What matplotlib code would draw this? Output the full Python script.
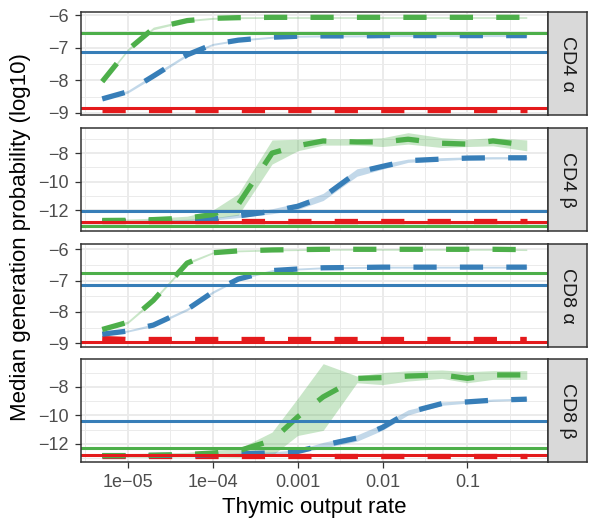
import numpy as np
import matplotlib
matplotlib.use("Agg")
import matplotlib.pyplot as plt
from matplotlib.ticker import FixedLocator, AutoMinorLocator, NullFormatter

plt.rcParams["font.family"] = ["Liberation Sans", "DejaVu Sans"]
plt.rcParams["axes.unicode_minus"] = True

# thymic output rates (x)
RATES = [5e-6, 1e-5, 2e-5, 5e-5, 1e-4, 2e-4, 5e-4, 1e-3, 2e-3, 5e-3,
         1e-2, 2e-2, 5e-2, 0.1, 0.2, 0.5]
X_TICKS = [1e-5, 1e-4, 1e-3, 1e-2, 0.1]
X_LABELS = ["1e\u221205", "1e\u221204", "0.001", "0.01", "0.1"]

PANELS = ["CD4 \u03b1", "CD4 \u03b2", "CD8 \u03b1", "CD8 \u03b2"]
Y_TICKS = [[-9, -8, -7, -6], [-12, -10, -8], [-9, -8, -7, -6], [-12, -10, -8]]

# CD4 alpha
CD4A_GREEN = [-8.04, -7.07, -6.41, -6.17, -6.10, -6.08, -6.07, -6.07, -6.07, -6.07, -6.07, -6.07, -6.07, -6.07, -6.07, -6.07]
CD4A_GREEN_LO = [-8.08, -7.11, -6.45, -6.20, -6.13, -6.11, -6.10, -6.10, -6.10, -6.10, -6.10, -6.10, -6.10, -6.10, -6.10, -6.10]
CD4A_GREEN_HI = [-8.00, -7.03, -6.37, -6.14, -6.07, -6.05, -6.05, -6.05, -6.05, -6.05, -6.05, -6.05, -6.05, -6.05, -6.05, -6.05]
CD4A_BLUE = [-8.57, -8.35, -7.87, -7.22, -6.90, -6.77, -6.68, -6.65, -6.64, -6.64, -6.63, -6.63, -6.63, -6.63, -6.63, -6.63]
CD4A_BLUE_LO = [-8.60, -8.39, -7.92, -7.26, -6.93, -6.80, -6.71, -6.68, -6.67, -6.67, -6.66, -6.66, -6.66, -6.66, -6.66, -6.66]
CD4A_BLUE_HI = [-8.54, -8.31, -7.82, -7.18, -6.87, -6.74, -6.65, -6.62, -6.61, -6.61, -6.60, -6.60, -6.60, -6.60, -6.60, -6.60]
CD4A_RED = [-8.92] * 16
CD4A_HLINES = [-6.56, -7.13, -8.86]  # green, blue, red

# CD4 beta
CD4B_GREEN = [-12.72, -12.71, -12.66, -12.55, -12.31, -11.59, -8.00, -7.49, -7.15, -7.22, -7.22, -7.03, -7.31, -7.37, -7.15, -7.44]
CD4B_GREEN_LO = [-12.80, -12.80, -12.78, -12.72, -12.58, -12.35, -8.77, -7.84, -7.44, -7.44, -7.54, -7.37, -7.61, -7.54, -7.49, -7.84]
CD4B_GREEN_HI = [-12.62, -12.62, -12.56, -12.42, -12.00, -10.85, -7.08, -7.03, -7.00, -7.00, -6.92, -6.57, -6.92, -7.03, -6.92, -7.08]
CD4B_BLUE = [-12.76, -12.76, -12.74, -12.70, -12.62, -12.40, -12.08, -11.73, -11.08, -9.35, -8.93, -8.53, -8.42, -8.35, -8.33, -8.33]
CD4B_BLUE_LO = [-12.80, -12.80, -12.79, -12.76, -12.70, -12.52, -12.25, -11.95, -11.32, -9.62, -9.12, -8.65, -8.52, -8.43, -8.41, -8.40]
CD4B_BLUE_HI = [-12.72, -12.72, -12.70, -12.64, -12.54, -12.28, -11.90, -11.50, -10.82, -9.10, -8.76, -8.42, -8.32, -8.27, -8.25, -8.25]
CD4B_RED = [-12.77] * 16
CD4B_HLINES = [-13.13, -12.03, -12.82]

# CD8 alpha
CD8A_GREEN = [-8.56, -8.33, -7.63, -6.44, -6.11, -6.05, -6.02, -6.01, -6.00, -6.00, -6.00, -6.00, -6.00, -6.00, -6.00, -6.01]
CD8A_GREEN_LO = [-8.60, -8.37, -7.68, -6.48, -6.14, -6.08, -6.05, -6.04, -6.03, -6.03, -6.03, -6.03, -6.03, -6.03, -6.03, -6.04]
CD8A_GREEN_HI = [-8.52, -8.29, -7.58, -6.40, -6.08, -6.02, -6.00, -5.99, -5.98, -5.98, -5.98, -5.98, -5.98, -5.98, -5.98, -5.99]
CD8A_BLUE = [-8.71, -8.61, -8.42, -7.92, -7.37, -6.95, -6.68, -6.63, -6.59, -6.58, -6.57, -6.57, -6.57, -6.57, -6.57, -6.57]
CD8A_BLUE_LO = [-8.74, -8.64, -8.46, -7.96, -7.41, -6.98, -6.71, -6.66, -6.62, -6.61, -6.60, -6.60, -6.60, -6.60, -6.60, -6.60]
CD8A_BLUE_HI = [-8.68, -8.58, -8.38, -7.88, -7.33, -6.92, -6.65, -6.60, -6.56, -6.55, -6.54, -6.54, -6.54, -6.54, -6.54, -6.54]
CD8A_RED = [-8.85, -8.88, -8.88, -8.88, -8.88, -8.88, -8.88, -8.88, -8.88, -8.88, -8.88, -8.88, -8.88, -8.88, -8.88, -8.88]
CD8A_HLINES = [-6.76, -7.14, -8.97]

# CD8 beta
CD8B_GREEN = [-12.83, -12.83, -12.80, -12.75, -12.65, -12.50, -11.77, -10.12, -8.71, -7.41, -7.36, -7.25, -7.17, -7.41, -7.17, -7.17]
CD8B_GREEN_LO = [-12.95, -12.95, -12.95, -12.92, -12.92, -12.95, -12.83, -11.42, -11.06, -7.72, -7.85, -7.60, -7.41, -7.72, -7.48, -7.48]
CD8B_GREEN_HI = [-12.68, -12.68, -12.66, -12.60, -12.45, -12.36, -11.18, -8.82, -6.38, -7.25, -7.00, -6.88, -6.82, -6.94, -6.87, -6.87]
CD8B_BLUE = [-12.83, -12.83, -12.82, -12.80, -12.76, -12.71, -12.64, -12.54, -12.10, -11.60, -10.85, -9.80, -9.18, -9.06, -8.94, -8.87]
CD8B_BLUE_LO = [-12.87, -12.87, -12.86, -12.85, -12.81, -12.77, -12.72, -12.65, -12.30, -11.82, -11.05, -9.98, -9.30, -9.15, -9.02, -8.94]
CD8B_BLUE_HI = [-12.79, -12.79, -12.78, -12.76, -12.71, -12.65, -12.56, -12.42, -11.90, -11.38, -10.62, -9.62, -9.06, -8.97, -8.86, -8.80]
CD8B_RED = [-12.83] * 16
CD8B_HLINES = [-12.31, -10.39, -12.78]

GREENS = [CD4A_GREEN, CD4B_GREEN, CD8A_GREEN, CD8B_GREEN]
GREENS_LO = [CD4A_GREEN_LO, CD4B_GREEN_LO, CD8A_GREEN_LO, CD8B_GREEN_LO]
GREENS_HI = [CD4A_GREEN_HI, CD4B_GREEN_HI, CD8A_GREEN_HI, CD8B_GREEN_HI]
BLUES = [CD4A_BLUE, CD4B_BLUE, CD8A_BLUE, CD8B_BLUE]
BLUES_LO = [CD4A_BLUE_LO, CD4B_BLUE_LO, CD8A_BLUE_LO, CD8B_BLUE_LO]
BLUES_HI = [CD4A_BLUE_HI, CD4B_BLUE_HI, CD8A_BLUE_HI, CD8B_BLUE_HI]
REDS = [CD4A_RED, CD4B_RED, CD8A_RED, CD8B_RED]
HLINES = [CD4A_HLINES, CD4B_HLINES, CD8A_HLINES, CD8B_HLINES]

GREEN, BLUE, RED = "#4DAF4A", "#377EB8", "#E41A1C"
DARK = "#333333"
GRID = "#EBEBEB"

W, H = 589, 522
fig = plt.figure(figsize=(W / 100, H / 100), dpi=100)


def box(left, top, right, bottom):
    return [left / W, 1 - bottom / H, (right - left) / W, (bottom - top) / H]


PANEL_L, PANEL_R, STRIP_R = 81, 548, 587
TOPS = [12, 128, 244, 359]
PH = 103

# x range: data range padded 5% in log space (ggplot style)
lx0, lx1 = np.log10(RATES[0]), np.log10(RATES[-1])
xpad = 0.05 * (lx1 - lx0)
XLIM = (10 ** (lx0 - xpad), 10 ** (lx1 + xpad))
X_MINOR = [10 ** (e + 0.5) for e in range(-6, 0)]

for i, name in enumerate(PANELS):
    top = TOPS[i]
    ax = fig.add_axes(box(PANEL_L, top, PANEL_R, top + PH))
    ax.set_xscale("log")

    ax.fill_between(RATES, GREENS_LO[i], GREENS_HI[i], color=GREEN, alpha=0.3, lw=0)
    ax.fill_between(RATES, BLUES_LO[i], BLUES_HI[i], color=BLUE, alpha=0.3, lw=0)

    for ys, c in [(REDS[i], RED), (BLUES[i], BLUE), (GREENS[i], GREEN)]:
        ln, = ax.plot(RATES, ys, color=c, lw=3.8, solid_capstyle="butt",
                      dash_capstyle="butt")
        ln.set_dashes([4.4, 4.4])

    for yv, c in zip(HLINES[i], [GREEN, BLUE, RED]):
        ax.axhline(yv, color=c, lw=2.2)

    allv = GREENS_LO[i] + GREENS_HI[i] + BLUES_LO[i] + BLUES_HI[i] + REDS[i] + HLINES[i]
    lo, hi = min(allv), max(allv)
    pad = 0.05 * (hi - lo)
    ax.set_ylim(lo - pad, hi + pad)
    ax.set_xlim(*XLIM)

    ax.yaxis.set_major_locator(FixedLocator(Y_TICKS[i]))
    ax.yaxis.set_minor_locator(AutoMinorLocator(2))
    ax.xaxis.set_major_locator(FixedLocator(X_TICKS))
    ax.xaxis.set_minor_locator(FixedLocator(X_MINOR))
    ax.xaxis.set_minor_formatter(NullFormatter())

    ax.set_axisbelow(True)
    ax.grid(which="major", color=GRID, lw=1.4)
    ax.grid(which="minor", color=GRID, lw=0.7)

    ax.tick_params(which="minor", length=0)
    ax.tick_params(which="major", length=4.3, width=0.9, color=DARK,
                   labelcolor="#4D4D4D", labelsize=13, pad=4.5)
    if i < len(PANELS) - 1:
        ax.tick_params(axis="x", which="major", length=0, labelbottom=False)
    else:
        ax.set_xticklabels(X_LABELS)

    for sp in ax.spines.values():
        sp.set_color(DARK)
        sp.set_linewidth(1.1)

    # facet strip on the right
    sax = fig.add_axes(box(PANEL_R, top, STRIP_R, top + PH))
    sax.set_facecolor("#D9D9D9")
    sax.set_xticks([])
    sax.set_yticks([])
    for sp in sax.spines.values():
        sp.set_color(DARK)
        sp.set_linewidth(1.1)
    sax.text(0.5, 0.5, name, rotation=-90, ha="center", va="center",
             fontsize=14, color="#1A1A1A", transform=sax.transAxes)

fig.text(21 / W, 1 - 237 / H, "Median generation probability (log10)",
         rotation=90, ha="center", va="center", fontsize=16, color="black")
fig.text((PANEL_L + PANEL_R) / 2 / W, 1 - 507 / H, "Thymic output rate",
         ha="center", va="center", fontsize=16, color="black")

fig.savefig("out.png", dpi=100)
